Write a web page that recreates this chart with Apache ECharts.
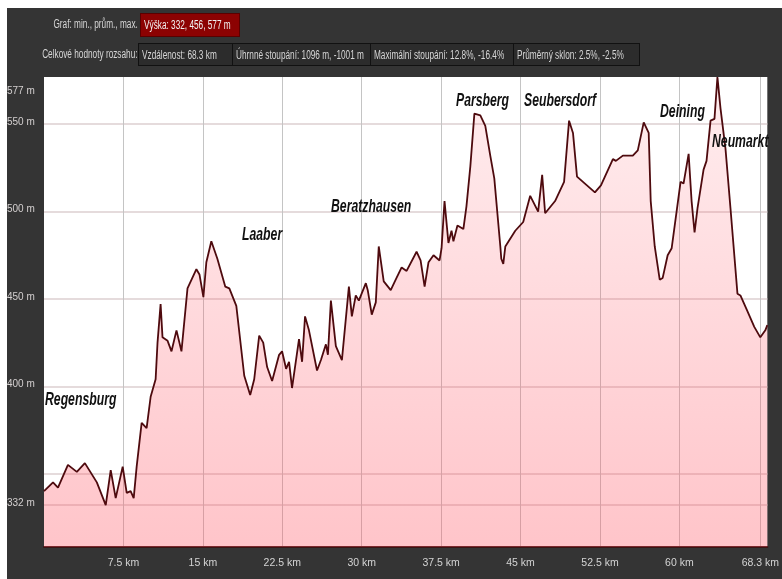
<!DOCTYPE html>
<html>
<head>
<meta charset="utf-8">
<script src="https://cdn.jsdelivr.net/npm/echarts@6/dist/echarts.min.js"></script>
<style>
  html, body { margin: 0; padding: 0; background: #ffffff; width: 782px; height: 579px; overflow: hidden; }
  #panel { position: absolute; left: 7px; top: 8px; width: 775px; height: 571px; background: #343434; }
  #chart { position: absolute; left: 0; top: 0; width: 782px; height: 579px; }
  .hd { position: absolute; font-family: "Liberation Sans", Arimo, Arial, sans-serif; font-size: 12.5px; color: #d6d6d6; white-space: nowrap; line-height: 22px; box-sizing: border-box; overflow: visible; }
  .hd span { position: absolute; left: 3px; top: 0; transform: scaleX(0.66); transform-origin: left center; }
  .hd.right span { left: auto; right: 0; transform-origin: right center; }
  .box { border: 1px solid #111; background: #2c2c2c; }
  .red { background: #8c0202; color: #f2f2f2; border: 1px solid #5a0000; }
  .town { position: absolute; font-family: "Liberation Sans", Arimo, Arial, sans-serif; font-size: 18px; font-weight: bold; font-style: italic; color: #111; white-space: nowrap; line-height: 20px; transform-origin: left center; transform: translateY(-50%) scaleX(0.68); }
</style>
</head>
<body>
<div id="panel"></div>
<div id="chart"></div>
<div class="hd right" style="left:20px; top:13px; width:118px; height:22px;"><span>Graf: min., prům., max.</span></div>
<div class="hd red" style="left:140px; top:13px; width:100px; height:24px;"><span>Výška: 332, 456, 577 m</span></div>
<div class="hd right" style="left:20px; top:43px; width:118px; height:22px;"><span>Celkové hodnoty rozsahu:</span></div>
<div class="hd box" style="left:138px; top:43px; width:95px; height:23px;"><span>Vzdálenost: 68.3 km</span></div>
<div class="hd box" style="left:232px; top:43px; width:139px; height:23px;"><span>Úhrnné stoupání: 1096 m, -1001 m</span></div>
<div class="hd box" style="left:370px; top:43px; width:144px; height:23px;"><span>Maximální stoupání: 12.8%, -16.4%</span></div>
<div class="hd box" style="left:513px; top:43px; width:127px; height:23px;"><span>Průměrný sklon: 2.5%, -2.5%</span></div>
<div id="towns"></div>
<script>
// distance along route (km)
var distanceKm = [0, 0.85, 1.32, 2.26, 3.10, 3.86, 4.99, 5.83, 6.30, 6.77, 7.43, 7.81, 8.18, 8.47, 8.75, 9.22, 9.69, 10.07, 10.54, 10.72, 11.01, 11.19, 11.67, 12.04, 12.51, 12.98, 13.55, 14.39, 14.68, 15.05, 15.33, 15.80, 16.37, 17.12, 17.50, 18.16, 18.91, 19.47, 19.85, 20.32, 20.70, 21.07, 21.54, 22.20, 22.48, 22.86, 23.14, 23.42, 24.08, 24.37, 24.65, 25.02, 25.78, 26.15, 26.62, 26.81, 27.09, 27.56, 28.13, 28.79, 29.07, 29.44, 29.73, 30.39, 30.57, 30.95, 31.33, 31.61, 32.08, 32.74, 33.21, 33.77, 34.24, 35.18, 35.56, 35.94, 36.31, 36.78, 37.35, 37.54, 37.82, 38.19, 38.48, 38.66, 39.04, 39.60, 39.89, 40.26, 40.64, 41.20, 41.67, 42.14, 42.52, 43.09, 43.18, 43.37, 43.56, 44.50, 45.25, 45.91, 46.66, 47.04, 47.32, 48.26, 49.11, 49.58, 49.95, 50.33, 51.08, 52.02, 52.59, 53.72, 54.00, 54.66, 55.60, 56.07, 56.63, 57.10, 57.29, 57.67, 58.14, 58.42, 58.89, 59.27, 60.11, 60.39, 60.87, 61.15, 61.43, 61.71, 62.28, 62.56, 62.94, 63.31, 63.59, 63.88, 64.35, 64.82, 65.48, 65.76, 66.42, 67.07, 67.64, 68.11, 68.30];
// elevation (m)
var elevationM = [340, 345, 342, 355, 351, 356, 345, 332, 352, 336, 354, 339, 340, 336, 354, 379, 376, 394, 404, 425, 447, 428, 426, 420, 432, 420, 456, 467, 464, 451, 471, 483, 473, 457, 456, 446, 406, 395, 404, 429, 425, 411, 403, 418, 420, 410, 414, 399, 427, 414, 440, 432, 409, 415, 424, 418, 449, 423, 415, 457, 440, 452, 449, 459, 455, 441, 448, 480, 460, 455, 461, 468, 466, 477, 472, 457, 471, 475, 472, 479, 506, 482, 489, 483, 492, 490, 503, 526, 556, 555, 549, 532, 519, 480, 473, 470, 480, 489, 494, 509, 500, 521, 499, 506, 517, 552, 545, 520, 516, 511, 515, 530, 529, 532, 532, 535, 551, 545, 506, 480, 461, 462, 475, 479, 517, 516, 533, 506, 488, 502, 524, 529, 552, 553, 577, 559, 536, 502, 453, 452, 443, 434, 428, 432, 435];

// place names and their label anchors (km, m)
var townNames = ["Regensburg", "Laaber", "Beratzhausen", "Parsberg", "Seubersdorf", "Deining", "Neumarkt"];
var townKm = [0.09, 18.72, 27.09, 38.95, 45.34, 58.14, 63.12];
var townM = [392.5, 487.4, 502.9, 563.8, 563.8, 557.5, 540.2];

// axis ticks
var xGridValues = [7.5, 15, 22.5, 30, 37.5, 45, 52.5, 60, 67.64];
var xTickLabels = ["7.5 km", "15 km", "22.5 km", "30 km", "37.5 km", "45 km", "52.5 km", "60 km", "68.3 km"];
var yGridValues = [332, 350, 400, 450, 500, 550];
var yLabelValues = [332, 400, 450, 500, 550, 577];
var yTickLabels = ["332 m", "400 m", "450 m", "500 m", "550 m", "577 m"];

var profile = distanceKm.map(function (d, i) { return [d, elevationM[i]]; });

var FONT = '"Liberation Sans", Arimo, Arial, sans-serif';
var chart = echarts.init(document.getElementById('chart'), null, { renderer: 'canvas' });
chart.setOption({
  animation: false,
  backgroundColor: 'transparent',
  grid: { left: 44, right: 12, top: 77, bottom: 32, show: true, backgroundColor: '#ffffff', borderWidth: 0 },
  xAxis: {
    type: 'value', min: 0, max: 68.3,
    axisLine: { show: true, lineStyle: { color: '#3a1414', width: 2 } },
    axisTick: { show: false, customValues: xGridValues },
    splitLine: { show: true, lineStyle: { color: '#c4c4c4', width: 1 } },
    axisLabel: {
      customValues: xGridValues, color: '#d4d4d4', fontFamily: FONT, fontSize: 10.5, margin: 11,
      formatter: function (v) { var i = xGridValues.indexOf(v); return i >= 0 ? xTickLabels[i] : ''; }
    }
  },
  yAxis: {
    type: 'value', min: 308, max: 577,
    axisLine: { show: false },
    axisTick: { show: false, customValues: yGridValues },
    splitLine: { show: true, lineStyle: { color: '#dccfd1', width: 1.5 } },
    axisLabel: {
      customValues: yLabelValues, color: '#d4d0d0', fontFamily: FONT, fontSize: 10, margin: 37, align: 'left',
      formatter: function (v) {
        var i = yLabelValues.indexOf(v);
        if (i < 0) return '';
        return v === 577 ? '{top|' + yTickLabels[i] + '}' : '{n|' + yTickLabels[i] + '}';
      },
      rich: {
        top: { color: '#d4d0d0', fontFamily: FONT, fontSize: 10, padding: [28, 0, 0, 0] },
        n: { color: '#d4d0d0', fontFamily: FONT, fontSize: 10, padding: [0, 0, 4, 0] }
      }
    }
  },
  series: [
    {
      type: 'line', data: profile, symbol: 'none', smooth: false,
      lineStyle: { color: '#4e0a0e', width: 1.8 },
      areaStyle: {
        color: new echarts.graphic.LinearGradient(0, 0, 0, 1, [
          { offset: 0, color: 'rgba(255, 80, 95, 0.14)' },
          { offset: 1, color: 'rgba(255, 80, 95, 0.48)' }
        ])
      },
      z: 2
    }
  ]
});

// town name labels positioned through the chart's own scales
var townLayer = document.getElementById('towns');
townNames.forEach(function (name, i) {
  var p = chart.convertToPixel({ gridIndex: 0 }, [townKm[i], townM[i]]);
  var el = document.createElement('div');
  el.className = 'town';
  el.textContent = name;
  el.style.left = p[0] + 'px';
  el.style.top = p[1] + 'px';
  townLayer.appendChild(el);
});
</script>
</body>
</html>
